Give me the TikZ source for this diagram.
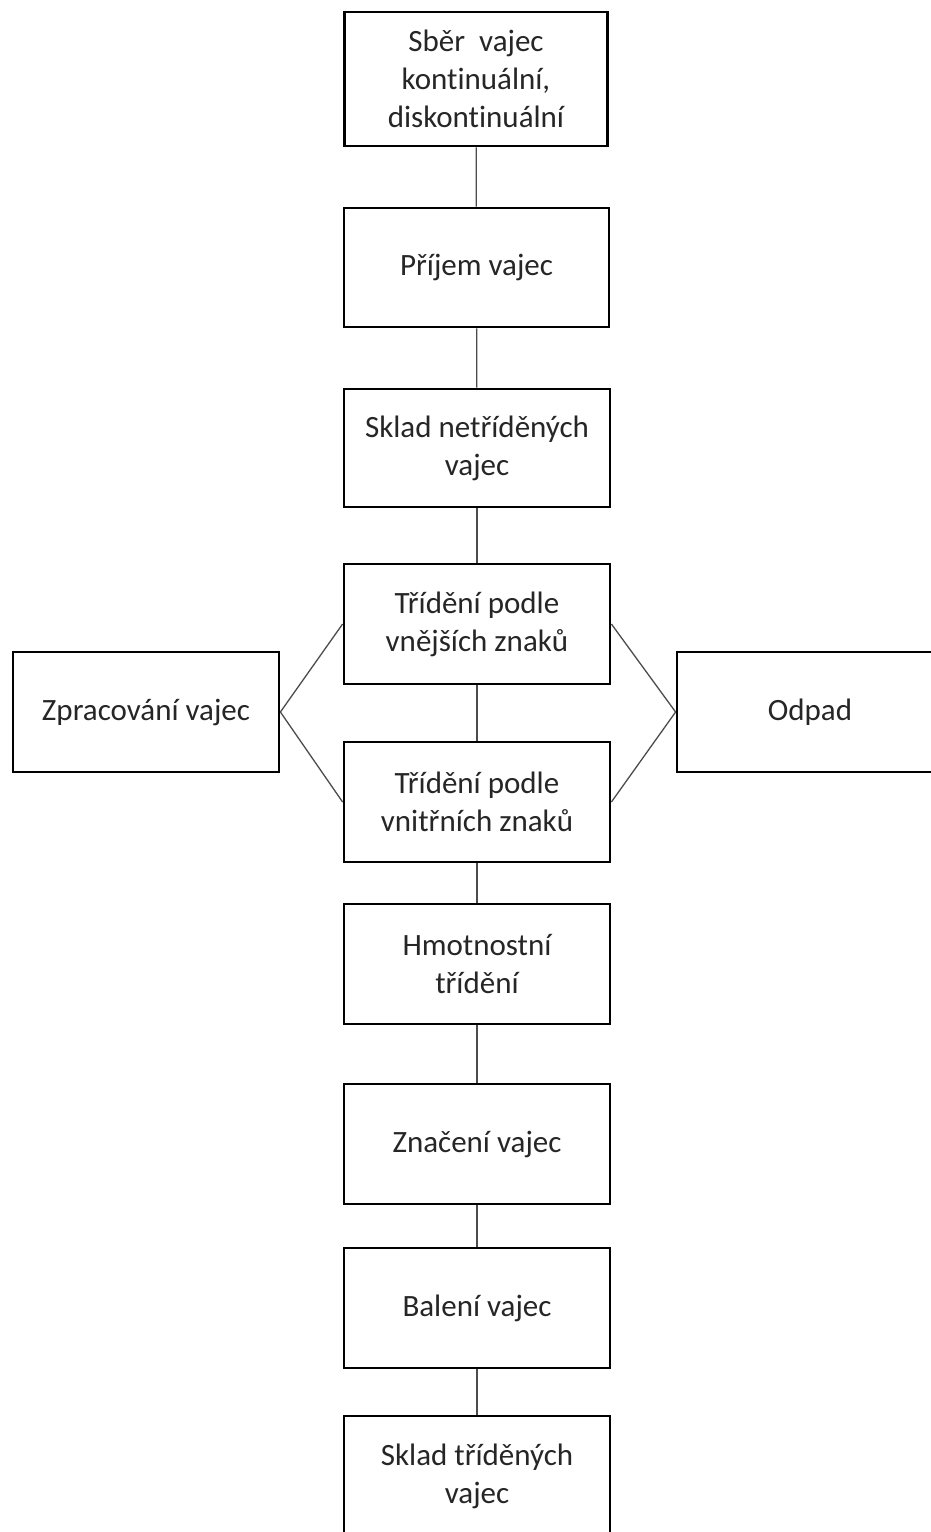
\documentclass[tikz,border=0pt]{standalone}
\usepackage{fontspec}
\setmainfont{Carlito}[Ligatures=NoCommon]
\begin{document}
\begin{tikzpicture}[x=1pt,y=-1pt,
  box/.style={draw=black,line width=2.8pt,fill=white,inner sep=0pt,align=center,
    minimum width=266pt,minimum height=120pt,text=black!85,
    font=\fontsize{31}{38}\selectfont},
  conn/.style={draw=black!70,line width=1.3pt}]
\useasboundingbox (0,0) rectangle (931,1532);
\clip (0,0) rectangle (931,1532);
\fill[white] (0,0) rectangle (931,1532);
\node[box,minimum width=263pt,minimum height=134pt] (n1) at (476,79) {Sběr\ \ vajec\\kontinuální,\\diskontinuální};
\node[box,minimum width=265pt,minimum height=119pt] (n2) at (476.5,267.5) {Příjem vajec};
\node[box,minimum height=118pt] (n3) at (477,448) {Sklad netříděných\\vajec};
\node[box] (n4) at (477,624) {Třídění podle\\vnějších znaků};
\node[box] (n5) at (477,802) {Třídění podle\\vnitřních znaků};
\node[box] (n6) at (477,964) {Hmotnostní\\třídění};
\node[box] (n7) at (477,1144) {Značení vajec};
\node[box] (n8) at (477,1308) {Balení vajec};
\node[box] (n9) at (477,1476) {Sklad tříděných\\vajec};
\node[box] (L) at (146,712) {Zpracování vajec};
\node[box] (R) at (810,712) {Odpad};
\draw[conn] (n1) -- (n2);
\draw[conn] (n2) -- (n3);
\draw[conn] (n3) -- (n4);
\draw[conn] (n4) -- (n5);
\draw[conn] (n5) -- (n6);
\draw[conn] (n6) -- (n7);
\draw[conn] (n7) -- (n8);
\draw[conn] (n8) -- (n9);
\draw[conn] (L.east) -- (n4.west);
\draw[conn] (L.east) -- (n5.west);
\draw[conn] (R.west) -- (n4.east);
\draw[conn] (R.west) -- (n5.east);
\end{tikzpicture}
\end{document}
